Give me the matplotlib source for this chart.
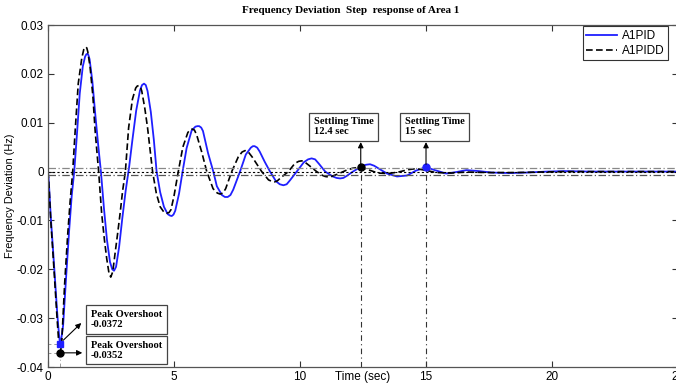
import matplotlib.pyplot as plt

# ---- data ----
t_pid = [0.0, 0.03, 0.11, 0.20, 0.28, 0.36, 0.41, 0.45, 0.48, 0.52, 0.60, 0.72, 0.84,
         0.94, 1.04, 1.14, 1.26, 1.38, 1.47, 1.52, 1.56, 1.60, 1.65, 1.76, 1.88, 2.00,
         2.10, 2.22, 2.34, 2.46, 2.55, 2.62, 2.70, 2.82, 2.95, 3.08, 3.22, 3.35, 3.50,
         3.65, 3.73, 3.81, 3.88, 3.95, 4.08, 4.20, 4.31, 4.45, 4.60, 4.75, 4.84, 4.91,
         4.98, 5.05, 5.20, 5.34, 5.50, 5.70, 5.85, 5.93, 6.00, 6.08, 6.15, 6.35, 6.56,
         6.70, 6.90, 7.02, 7.13, 7.24, 7.35, 7.62, 7.85, 8.05, 8.13, 8.20, 8.30, 8.40,
         8.60, 8.81, 9.05, 9.20, 9.34, 9.47, 9.60, 9.87, 10.15, 10.32, 10.46, 10.60,
         10.75, 11.00, 11.30, 11.45, 11.59, 11.72, 11.85, 12.10, 12.45, 12.62, 12.78,
         12.94, 13.10, 13.45, 13.85, 14.25, 14.60, 15.00, 15.35, 15.80, 16.20, 16.60,
         17.10, 17.60, 18.30, 19.00, 19.80, 20.50, 21.50, 22.50, 25.0]
y_pid = [0.0, -0.0018, -0.0093, -0.0160, -0.0222, -0.0285, -0.0318, -0.0340, -0.0352,
         -0.0345, -0.0315, -0.0215, -0.0120, -0.0050, 0.0, 0.0070, 0.0160, 0.0215,
         0.0235, 0.0240, 0.0241, 0.0239, 0.0230, 0.0185, 0.0115, 0.0050, 0.0, -0.0075,
         -0.0140, -0.0185, -0.0200, -0.0203, -0.0195, -0.0155, -0.0095, -0.0040, 0.0010,
         0.0065, 0.0125, 0.0166, 0.0177, 0.0180, 0.0177, 0.0165, 0.0122, 0.0065, 0.0,
         -0.0042, -0.0072, -0.0087, -0.0090, -0.0091, -0.0088, -0.0080, -0.0045, 0.0,
         0.0048, 0.0084, 0.0092, 0.0093, 0.0093, 0.0090, 0.0083, 0.0038, 0.0, -0.0030,
         -0.0048, -0.0052, -0.0052, -0.0048, -0.0037, 0.0, 0.0035, 0.0049, 0.0052,
         0.0052, 0.0049, 0.0041, 0.0020, 0.0, -0.0020, -0.0026, -0.0028, -0.0026,
         -0.0018, 0.0, 0.0019, 0.0025, 0.0027, 0.0025, 0.0016, 0.0, -0.0010, -0.0013,
         -0.0014, -0.0013, -0.0009, 0.0, 0.0011, 0.0014, 0.0015, 0.0012, 0.0007, -0.0004,
         -0.0010, -0.0008, 0.0002, 0.0009, 0.0003, -0.0004, -0.0001, 0.0003, 0.0001,
         -0.0002, -0.0003, -0.0002, 0.0, 0.0001, 0.0, 0.0, 0.0]

t_pidd = [0.0, 0.03, 0.11, 0.20, 0.28, 0.36, 0.42, 0.45, 0.48, 0.51, 0.55, 0.66, 0.78,
          0.88, 0.98, 1.08, 1.20, 1.34, 1.42, 1.46, 1.50, 1.54, 1.58, 1.67, 1.78, 1.87,
          1.95, 2.01, 2.13, 2.24, 2.33, 2.42, 2.49, 2.57, 2.66, 2.76, 2.86, 2.96, 3.07,
          3.20, 3.35, 3.48, 3.54, 3.60, 3.66, 3.72, 3.84, 3.95, 4.05, 4.15, 4.30, 4.45,
          4.60, 4.71, 4.80, 4.88, 5.00, 5.17, 5.35, 5.55, 5.65, 5.73, 5.81, 5.90, 6.10,
          6.30, 6.55, 6.72, 6.83, 6.94, 7.05, 7.29, 7.55, 7.70, 7.82, 7.95, 8.10, 8.48,
          8.75, 8.88, 8.99, 9.10, 9.25, 9.54, 9.80, 9.95, 10.07, 10.20, 10.35, 10.66,
          10.90, 11.00, 11.12, 11.25, 11.50, 11.85, 12.10, 12.41, 12.75, 13.10, 13.50,
          13.90, 14.30, 14.60, 14.95, 15.40, 16.00, 16.60, 17.50, 18.50, 19.50, 20.50,
          25.0]
y_pidd = [0.0, -0.0020, -0.0100, -0.0170, -0.0235, -0.0300, -0.0345, -0.0362, -0.0371,
          -0.0364, -0.0345, -0.0230, -0.0130, -0.0060, 0.0, 0.0085, 0.0180, 0.0232,
          0.0250, 0.0254, 0.0255, 0.0253, 0.0245, 0.0214, 0.0155, 0.0084, 0.0035, 0.0,
          -0.0086, -0.0140, -0.0178, -0.0208, -0.0216, -0.0205, -0.0168, -0.0128,
          -0.0086, -0.0040, 0.0, 0.0090, 0.0148, 0.0171, 0.0175, 0.0176, 0.0174, 0.0165,
          0.0130, 0.0090, 0.0045, 0.0, -0.0045, -0.0072, -0.0083, -0.0085, -0.0084,
          -0.0078, -0.0050, 0.0, 0.0050, 0.0080, 0.0086, 0.0087, 0.0085, 0.0075, 0.0040,
          0.0, -0.0035, -0.0044, -0.0046, -0.0044, -0.0035, 0.0, 0.0030, 0.0040, 0.0043,
          0.0040, 0.0030, 0.0, -0.0017, -0.0020, -0.0021, -0.0019, -0.0012, 0.0, 0.0017,
          0.0021, 0.0022, 0.0019, 0.0013, 0.0, -0.0008, -0.0010, -0.0011, -0.0010,
          -0.0005, 0.0003, 0.0007, 0.0009, 0.0003, -0.0003, -0.0004, -0.0001, 0.0004,
          0.0006, 0.0003, -0.0002, -0.0003, -0.0001, -0.0002, -0.0002, -0.0001, 0.0, 0.0]

# band lines and marked points
band_hi, band_lo = 0.0008, -0.0006
peak_t = 0.48
peak_pid, peak_pidd = -0.0352, -0.0371
settle_pidd = (12.41, 0.0009)
settle_pid = (15.0, 0.0009)

x_ticks = [0, 5, 10, 15, 20, 25]
y_ticks = [-0.04, -0.03, -0.02, -0.01, 0, 0.01, 0.02, 0.03]
y_ticklabels = ['-0.04', '-0.03', '-0.02', '-0.01', '0', '0.01', '0.02', '0.03']

serif = 'Liberation Serif'
sans = 'Liberation Sans'

fig = plt.figure(figsize=(6.76, 3.86), dpi=100)
ax = fig.add_axes([0.071, 0.0492, 0.932, 0.886])

# curves
ax.plot(t_pid, y_pid, color='#1f1fff', lw=1.3, label='A1PID')
ax.plot(t_pidd, y_pidd, color='black', lw=1.2, ls=(0, (4, 2)), label='A1PIDD')

# tolerance band
ax.axhline(band_hi, color='#888888', lw=0.9, ls=(0, (6, 2, 1, 2)))
ax.axhline(0, color='black', lw=0.8, ls=(0, (2, 2)))
ax.axhline(band_lo, color='#555555', lw=0.9, ls=(0, (6, 2, 1, 2)))

# settling time guides
for (ts, ys), col in [(settle_pidd, 'black'), (settle_pid, '#1f1fff')]:
    ax.plot([ts, ts], [-0.04, ys], color='#333333', lw=0.8, ls=(0, (5, 3, 1, 3)))
    ax.plot(ts, ys, 'o', color=col, ms=5)

# peak guides
ax.plot([peak_t, peak_t], [-0.04, peak_pidd], color='#999999', lw=0.7, ls=(0, (4, 3, 1, 3)))
ax.plot([0, peak_t], [peak_pid, peak_pid], color='#999999', lw=0.7, ls=(0, (3, 3)))
ax.plot([0, peak_t], [peak_pidd, peak_pidd], color='#999999', lw=0.7, ls=(0, (3, 3)))
ax.plot(peak_t, peak_pid, 's', color='#1f1fff', ms=5)
ax.plot(peak_t, peak_pidd, 'o', color='black', ms=5)

# annotation boxes
box = dict(boxstyle='square,pad=0.45', fc='white', ec='#444444', lw=0.9)
tkw = dict(fontsize=7.6, family=serif, fontweight='bold', ha='left', va='top',
           linespacing=1.15, bbox=box)
ax.text(10.55, 0.0111, 'Settling Time\n12.4 sec', **tkw)
ax.text(14.15, 0.0111, 'Settling Time\n15 sec', **tkw)
ax.text(1.70, -0.0283, 'Peak Overshoot\n-0.0372', **tkw)
ax.text(1.70, -0.0346, 'Peak Overshoot\n-0.0352', **tkw)

akw = dict(arrowstyle='-|>', color='black', lw=0.8, mutation_scale=8)
ax.annotate('', xy=(settle_pidd[0], 0.0066), xytext=settle_pidd, arrowprops=akw)
ax.annotate('', xy=(settle_pid[0], 0.0066), xytext=settle_pid, arrowprops=akw)
ax.annotate('', xy=(1.40, -0.0306), xytext=(peak_t + 0.05, peak_pid + 0.0003), arrowprops=akw)
ax.annotate('', xy=(1.47, peak_pidd), xytext=(peak_t, peak_pidd), arrowprops=akw)

# axes cosmetics
ax.set_xlim(0, 25)
ax.set_ylim(-0.04, 0.03)
ax.set_xticks(x_ticks)
ax.set_yticks(y_ticks)
ax.set_yticklabels(y_ticklabels)
ax.tick_params(direction='in', length=4, width=0.8, top=True, right=True,
               labelsize=8.5, pad=3, colors='#333333', labelcolor='black')
for lab in ax.get_xticklabels() + ax.get_yticklabels():
    lab.set_family(sans)
for sp in ax.spines.values():
    sp.set_color('#555555')
    sp.set_linewidth(0.9)

ax.set_xlabel('Time (sec)', fontsize=8.5, family=sans)
ax.xaxis.set_label_coords(0.5, -0.013)
ax.set_ylabel('Frequency Deviation (Hz)', fontsize=7.8, family=sans)
ax.yaxis.set_label_coords(-0.053, 0.5)

fig.text(0.519, 0.974, 'Frequency Deviation  Step  response of Area 1', ha='center',
         va='center', fontsize=8, family=serif, fontweight='bold')

leg = ax.legend(loc='upper right', bbox_to_anchor=(0.988, 0.932),
                bbox_transform=fig.transFigure, prop={'family': sans, 'size': 8.5},
                fancybox=False, framealpha=1, edgecolor='#333333', handlelength=2.6,
                borderpad=0.3, labelspacing=0.25, handletextpad=0.4, borderaxespad=0)
leg.get_frame().set_linewidth(0.8)

fig.savefig('out.png', dpi=100)
